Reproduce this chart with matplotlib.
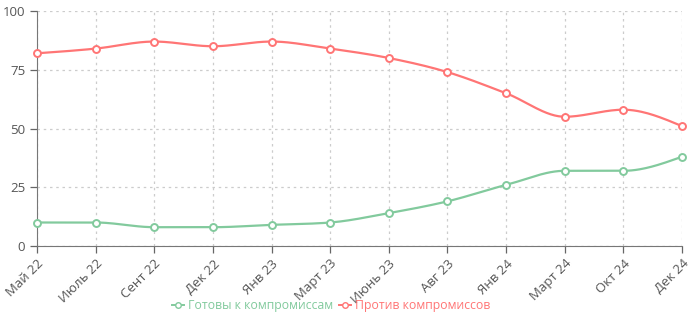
import numpy as np
import matplotlib
matplotlib.use("Agg")
import matplotlib.pyplot as plt
from matplotlib.lines import Line2D

categories = ["Май 22", "Июль 22", "Сент 22", "Дек 22", "Янв 23", "Март 23",
              "Июнь 23", "Авг 23", "Янв 24", "Март 24", "Окт 24", "Дек 24"]
ready = [10, 10, 8, 8, 9, 10, 14, 19, 26, 32, 32, 38]
against = [82, 84, 87, 85, 87, 84, 80, 74, 65, 55, 58, 51]
series_names = ["Готовы к компромиссам", "Против компромиссов"]
colors = ["#82ca9d", "#ff7575"]

plt.rcParams['font.family'] = ['Open Sans', 'DejaVu Sans']


def monotone(x, y, n=30):
    x = np.asarray(x, float); y = np.asarray(y, float)
    h = np.diff(x); s = np.diff(y) / h
    m = np.zeros_like(y)
    for i in range(1, len(x) - 1):
        s0, s1, h0, h1 = s[i - 1], s[i], h[i - 1], h[i]
        p = (s0 * h1 + s1 * h0) / (h0 + h1)
        m[i] = (np.sign(s0) + np.sign(s1)) * min(abs(s0), abs(s1), 0.5 * abs(p))
    m[0] = (3 * s[0] - m[1]) / 2
    m[-1] = (3 * s[-1] - m[-2]) / 2
    xs, ys = [], []
    for i in range(len(x) - 1):
        t = np.linspace(0, 1, n)
        h00 = 2 * t**3 - 3 * t**2 + 1
        h10 = t**3 - 2 * t**2 + t
        h01 = -2 * t**3 + 3 * t**2
        h11 = t**3 - t**2
        xs.append(x[i] + t * h[i])
        ys.append(h00 * y[i] + h10 * h[i] * m[i] + h01 * y[i + 1] + h11 * h[i] * m[i + 1])
    return np.concatenate(xs), np.concatenate(ys)


fig = plt.figure(figsize=(7, 3.24), dpi=100)
ax = fig.add_axes([37 / 700, 78 / 324, (682 - 37) / 700, (246 - 11) / 324])
xi = np.arange(len(categories))
for vals, c in zip([ready, against], colors):
    sx, sy = monotone(xi, vals)
    ax.plot(sx, sy, color=c, lw=1.6, zorder=3, clip_on=False)
    ax.plot(xi, vals, 'o', ms=5, mfc='white', mec=c, mew=1.4, zorder=4, clip_on=False)

ax.set_xlim(0, len(categories) - 1)
ax.set_ylim(0, 100)
ax.set_yticks([0, 25, 50, 75, 100])
ax.set_xticks(xi)
ax.set_xticklabels(categories, rotation=45, ha='right', rotation_mode='anchor')
ax.grid(True, color='#cccccc', linestyle=(0, (2, 3)), lw=0.9)
for sp in ['top', 'right']:
    ax.spines[sp].set_visible(False)
for sp in ['left', 'bottom']:
    ax.spines[sp].set_color('#777777')
ax.tick_params(colors='#666666', labelsize=9.5, length=5, width=0.9)
ax.tick_params(axis='x', pad=3)
for lab in ax.get_xticklabels() + ax.get_yticklabels():
    lab.set_color('#555555')

handles = [Line2D([0], [0], color=c, marker='o', mfc='white', mec=c, ms=4, lw=1.4)
           for c in colors]
leg = fig.legend(handles, series_names, loc='center', bbox_to_anchor=(331 / 700, 1 - 306 / 324),
                 ncol=2, frameon=False, fontsize=8.8, handlelength=1.0,
                 handletextpad=0.3, columnspacing=0.5)
for t, c in zip(leg.get_texts(), colors):
    t.set_color(c)

fig.savefig("out.png", dpi=100)
